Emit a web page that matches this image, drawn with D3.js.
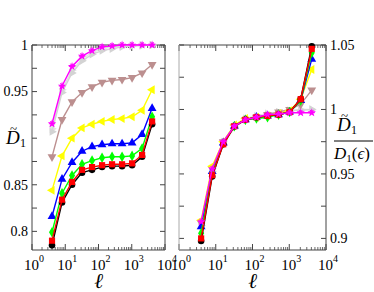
<!DOCTYPE html>
<html lang="en">
<head>
    <meta charset="UTF-8">
    <title>D1 tilde vs ell</title>
    <script src="https://cdnjs.cloudflare.com/ajax/libs/d3/7.8.5/d3.min.js"></script>
    <style>
        body { margin: 0; background: white; }
        svg { display: block; }
    </style>
</head>
<body>
    <div id="chart"></div>
    <script>
        // Data
        const ell = [4, 8, 16, 32, 64, 128, 256, 512, 1024, 2048, 4096];
        const seriesNames = ["black", "red", "green", "blue", "yellow", "brown", "gray1", "gray2", "magenta"];

        const leftBlack   = [0.785, 0.831, 0.850, 0.863, 0.866, 0.869, 0.870, 0.870, 0.871, 0.880, 0.915];
        const leftRed     = [0.790, 0.834, 0.853, 0.866, 0.869, 0.871, 0.872, 0.872, 0.873, 0.882, 0.918];
        const leftGreen   = [0.799, 0.841, 0.860, 0.872, 0.876, 0.879, 0.880, 0.880, 0.881, 0.889, 0.923];
        const leftBlue    = [0.816, 0.856, 0.874, 0.886, 0.891, 0.893, 0.894, 0.894, 0.895, 0.904, 0.932];
        const leftYellow  = [0.844, 0.881, 0.900, 0.911, 0.915, 0.918, 0.920, 0.921, 0.923, 0.930, 0.952];
        const leftBrown   = [0.880, 0.920, 0.939, 0.949, 0.955, 0.960, 0.962, 0.963, 0.965, 0.970, 0.979];
        const leftGray1   = [0.907, 0.949, 0.970, 0.983, 0.990, 0.994, 0.996, 0.998, 0.999, 0.9995, 1.0];
        const leftGray2   = [0.910, 0.952, 0.973, 0.985, 0.992, 0.996, 0.998, 0.999, 0.9995, 1.0, 1.0];
        const leftMagenta = [0.9155, 0.956, 0.977, 0.988, 0.994, 0.998, 0.999, 1.0, 1.0, 1.0, 1.0];

        const rightBlack   = [0.898, 0.948, 0.973, 0.987, 0.992, 0.994, 0.995, 0.996, 0.998, 1.008, 1.049];
        const rightRed     = [0.900, 0.949, 0.973, 0.987, 0.992, 0.994, 0.995, 0.996, 0.998, 1.008, 1.047];
        const rightGreen   = [0.904, 0.951, 0.974, 0.987, 0.992, 0.993, 0.994, 0.996, 0.998, 1.007, 1.044];
        const rightBlue    = [0.909, 0.952, 0.974, 0.987, 0.992, 0.994, 0.995, 0.996, 0.998, 1.007, 1.039];
        const rightYellow  = [0.914, 0.956, 0.975, 0.988, 0.993, 0.994, 0.995, 0.997, 0.999, 1.008, 1.031];
        const rightBrown   = [0.912, 0.954, 0.975, 0.987, 0.992, 0.994, 0.996, 0.998, 1.000, 1.004, 1.015];
        const rightGray1   = [0.910, 0.952, 0.973, 0.986, 0.992, 0.994, 0.996, 0.998, 0.999, 0.9995, 1.0];
        const rightGray2   = [0.912, 0.954, 0.975, 0.987, 0.993, 0.995, 0.997, 0.998, 0.999, 1.0, 1.0];
        const rightMagenta = [0.913, 0.954, 0.975, 0.987, 0.992, 0.994, 0.996, 0.9965, 0.9975, 0.9975, 0.9975];

        const xTickLabels = [1, 10, 100, 1000, 10000];
        const leftYTicks = [0.8, 0.85, 0.95, 1];
        const rightYTicks = [0.9, 0.95, 1, 1.05];

        const leftData = [leftBlack, leftRed, leftGreen, leftBlue, leftYellow, leftBrown, leftGray1, leftGray2, leftMagenta];
        const rightData = [rightBlack, rightRed, rightGreen, rightBlue, rightYellow, rightBrown, rightGray1, rightGray2, rightMagenta];

        // Styles per series
        const colors = {
            black: "#000000", red: "#ff0000", green: "#00ff00", blue: "#0000ff",
            yellow: "#ffff00", brown: "#bc8f8f", gray1: "#d3d3d3", gray2: "#e2e2e2", magenta: "#ff00ff"
        };
        const shapes = {
            black: [d3.symbolCircle, 0, 34], red: [d3.symbolSquare, 0, 38],
            green: [d3.symbolDiamond, 0, 32], blue: [d3.symbolTriangle, 0, 34],
            yellow: [d3.symbolTriangle, -90, 34], brown: [d3.symbolTriangle, 180, 34],
            gray1: [d3.symbolTriangle, 90, 30], gray2: [d3.symbolTriangle, 90, 30],
            magenta: [d3.symbolStar, 0, 22]
        };

        // Drawing order (back to front)
        const drawOrder = ["gray2", "gray1", "brown", "yellow", "blue", "green", "black", "red", "magenta"];

        const width = 374, height = 292;
        const svg = d3.select("#chart").append("svg")
            .attr("width", width)
            .attr("height", height)
            .attr("font-family", "'Liberation Serif', 'Times New Roman', Times, serif");

        function drawPanel(opts) {
            const x = d3.scaleLog().domain([1, 1e4]).range([opts.x0, opts.x1]);
            const y = d3.scaleLinear().domain(opts.yDomain).range([250, 45]);
            const g = svg.append("g");

            // ticks
            const majors = xTickLabels;
            const minors = [];
            for (let d = 1; d < 1e4; d *= 10) for (let k = 2; k <= 9; k++) minors.push(d * k);
            const yTicks = d3.range(Math.ceil(opts.yDomain[0] / 0.025) * 0.025, opts.yDomain[1] + 1e-9, 0.025);

            const tickColor = "#444";
            majors.forEach(v => {
                [[250, 244], [45, 51]].forEach(([a, b]) =>
                    g.append("line").attr("x1", x(v)).attr("x2", x(v)).attr("y1", a).attr("y2", b)
                        .attr("stroke", tickColor).attr("stroke-width", 1));
            });
            minors.forEach(v => {
                [[250, 247], [45, 48]].forEach(([a, b]) =>
                    g.append("line").attr("x1", x(v)).attr("x2", x(v)).attr("y1", a).attr("y2", b)
                        .attr("stroke", tickColor).attr("stroke-width", 0.8));
            });
            yTicks.forEach(v => {
                [[opts.x0, opts.x0 + 5], [opts.x1, opts.x1 - 5]].forEach(([a, b]) =>
                    g.append("line").attr("x1", a).attr("x2", b).attr("y1", y(v)).attr("y2", y(v))
                        .attr("stroke", tickColor).attr("stroke-width", 1));
            });

            // frame
            g.append("line").attr("x1", opts.x0).attr("x2", opts.x1).attr("y1", 45).attr("y2", 45).attr("stroke", "#444");
            g.append("line").attr("x1", opts.x0).attr("x2", opts.x1).attr("y1", 250).attr("y2", 250).attr("stroke", "#444");
            g.append("line").attr("x1", opts.x0).attr("x2", opts.x0).attr("y1", 45).attr("y2", 250).attr("stroke", opts.leftEdge);
            g.append("line").attr("x1", opts.x1).attr("x2", opts.x1).attr("y1", 45).attr("y2", 250).attr("stroke", "#444");

            // x tick labels
            xTickLabels.forEach(v => {
                const t = g.append("text")
                    .attr("x", x(v) + 2).attr("y", 270)
                    .attr("text-anchor", "middle")
                    .attr("font-size", 15);
                t.append("tspan").text("10");
                t.append("tspan").attr("dy", -8).attr("font-size", 10).text(Math.round(Math.log10(v)));
            });

            // y tick labels
            opts.yTicks.forEach(v => {
                g.append("text")
                    .attr("x", opts.yLabelX).attr("y", y(v))
                    .attr("dy", "0.35em")
                    .attr("text-anchor", opts.yAnchor)
                    .attr("font-size", 14)
                    .text(d3.format("~g")(v));
            });

            // x axis label
            g.append("text")
                .attr("x", (opts.x0 + opts.x1) / 2).attr("y", 288)
                .attr("text-anchor", "middle")
                .attr("font-size", 21)
                .attr("font-style", "italic")
                .text("ℓ");

            // series
            const line = d3.line().x((d, i) => x(ell[i])).y(d => y(d));
            drawOrder.forEach(name => {
                const idx = seriesNames.indexOf(name);
                const vals = opts.data[idx];
                const c = colors[name];
                g.append("path").datum(vals)
                    .attr("d", line)
                    .attr("fill", "none")
                    .attr("stroke", c)
                    .attr("stroke-width", 1.4);
                const [type, rot, size] = shapes[name];
                g.selectAll(null).data(vals).join("path")
                    .attr("d", d3.symbol().type(type).size(size))
                    .attr("transform", (d, i) => `translate(${x(ell[i])},${y(d)}) rotate(${rot})`)
                    .attr("fill", c);
                if (name === "magenta") {
                    g.selectAll(null).data(vals).join("path")
                        .attr("d", d3.symbol().type(d3.symbolAsterisk).size(28))
                        .attr("transform", (d, i) => `translate(${x(ell[i])},${y(d)}) rotate(90)`)
                        .attr("fill", "none")
                        .attr("stroke", c)
                        .attr("stroke-width", 1);
                }
            });
            return g;
        }

        drawPanel({
            x0: 32, x1: 165, yDomain: [0.78, 1.0], data: leftData,
            yTicks: leftYTicks, yLabelX: 28, yAnchor: "end", leftEdge: "#444"
        });
        drawPanel({
            x0: 179, x1: 326, yDomain: [0.891, 1.05], data: rightData,
            yTicks: rightYTicks, yLabelX: 330, yAnchor: "start", leftEdge: "#aaa"
        });

        // left y label: D tilde 1
        const ly = svg.append("g");
        ly.append("text").attr("x", 6).attr("y", 144).attr("font-size", 19).attr("font-style", "italic").text("D");
        ly.append("text").attr("x", 10).attr("y", 133).attr("font-size", 13).text("~");
        ly.append("text").attr("x", 20).attr("y", 147).attr("font-size", 12).text("1");

        // right y label: fraction
        const ry = svg.append("g");
        ry.append("text").attr("x", 337).attr("y", 131).attr("font-size", 19).attr("font-style", "italic").text("D");
        ry.append("text").attr("x", 341).attr("y", 120).attr("font-size", 13).text("~");
        ry.append("text").attr("x", 351).attr("y", 134).attr("font-size", 12).text("1");
        ry.append("line").attr("x1", 334).attr("x2", 373).attr("y1", 141).attr("y2", 141)
            .attr("stroke", "#000").attr("stroke-width", 1);
        const den = ry.append("text").attr("x", 334).attr("y", 159).attr("font-size", 17);
        den.append("tspan").attr("font-style", "italic").text("D");
        den.append("tspan").attr("font-size", 11).attr("dy", 3).text("1");
        den.append("tspan").attr("dy", -3).text("(");
        den.append("tspan").attr("font-style", "italic").text("ϵ");
        den.append("tspan").text(")");
    </script>
</body>
</html>
